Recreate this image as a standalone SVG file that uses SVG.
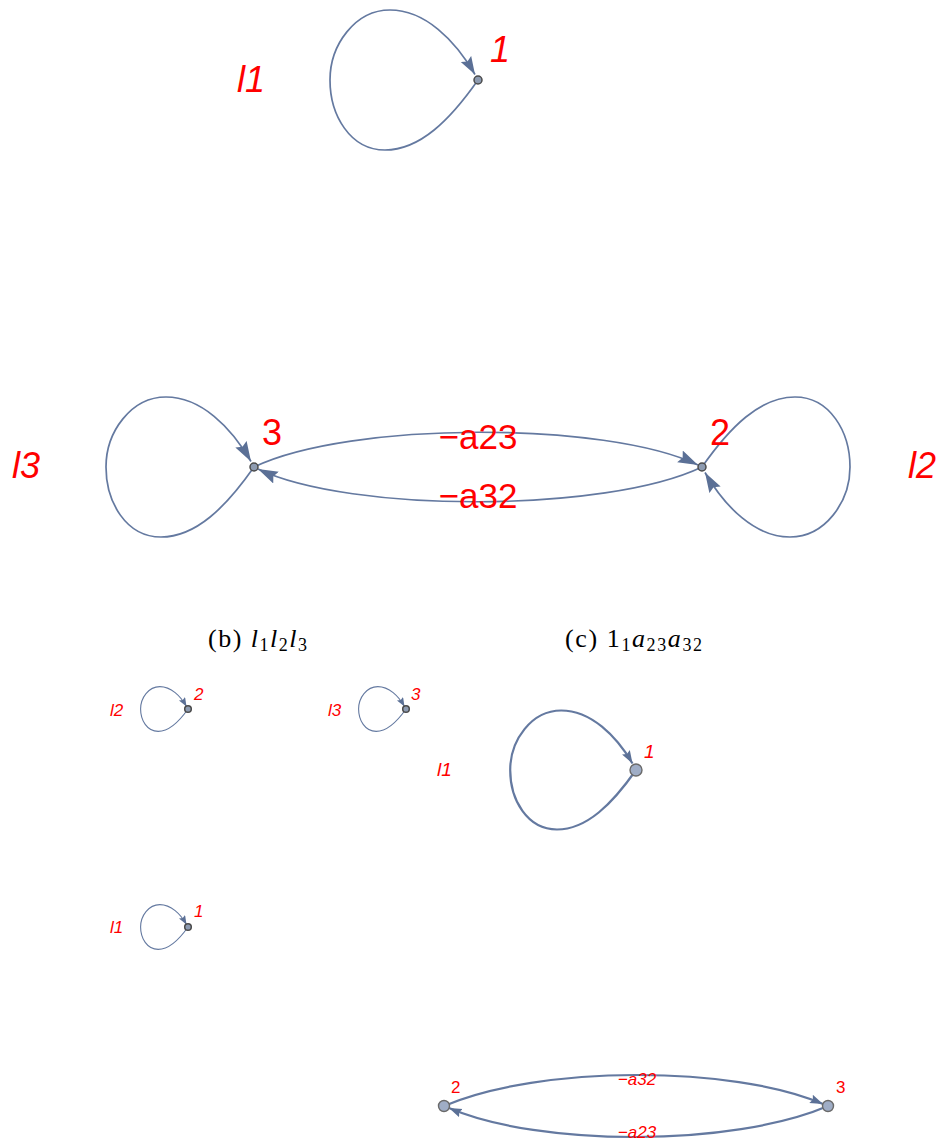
<svg xmlns="http://www.w3.org/2000/svg" width="943" height="1140" viewBox="0 0 943 1140">
<style>
.e{fill:none;stroke:#6479a0;}
.w1{stroke-width:1.7}
.w2{stroke-width:2.2}
.ws{stroke-width:1.1}
.lb{fill:#ff0000;font-family:"Liberation Sans",Arial,sans-serif;font-style:italic;}
.el{fill:#ff0000;font-family:"Liberation Sans",Arial,sans-serif;text-anchor:middle;}
.nA{fill:#8d9bb1;stroke:#4a4a4a;stroke-width:1.5}
.nB{fill:#9fadc6;stroke:#6a6a6a;stroke-width:1.4}
.cap{font-family:"Liberation Serif","Times New Roman",serif;font-size:26px;fill:#000}
</style>
<defs>
<marker id="aL" markerUnits="userSpaceOnUse" markerWidth="22" markerHeight="14" refX="20" refY="6.5" orient="auto"><path d="M0,0 L20,6.5 L0,13 L3,6.5 z" fill="#5b7096"/></marker>
<marker id="aT" markerUnits="userSpaceOnUse" markerWidth="20" markerHeight="14" refX="18" refY="6" orient="auto"><path d="M0,0 L18,6 L0,12 L3,6 z" fill="#5b7096"/></marker>
<marker id="aM" markerUnits="userSpaceOnUse" markerWidth="14" markerHeight="10" refX="13" refY="4.5" orient="auto"><path d="M0,0 L13,4.5 L0,9 L2,4.5 z" fill="#5b7096"/></marker>
<marker id="aS" markerUnits="userSpaceOnUse" markerWidth="10" markerHeight="8" refX="9" refY="3.5" orient="auto"><path d="M0,0 L9,3.5 L0,7 L1.5,3.5 z" fill="#5b7096"/></marker>
</defs>
<g id="connectors">
<path class="e w1" marker-end="url(#aT)" d="M478,80 C450,120 420,150 385,150 C350,150 330,115 330,80 C330,45 355,10 390,10 C425,10 455,40 475,74.5"/>
<path class="e w1" marker-end="url(#aL)" d="M254,467 C226,507 196,537 161,537 C126,537 106,502 106,467 C106,432 131,397 166,397 C201,397 231,427 251,461.5"/>
<path class="e w1" marker-end="url(#aL)" d="M702,467 C730,427 760,397 795,397 C830,397 850,432 850,467 C850,502 825,537 790,537 C755,537 725,507 705,472.5"/>
<path class="e w1" marker-end="url(#aL)" d="M254,467 C350,421 606,421 698,465"/>
<path class="e w1" marker-end="url(#aL)" d="M702,467 C606,513 350,513 258,469"/>
<path class="e ws" marker-end="url(#aS)" d="M188,709 C179,721.8 169.4,731.4 158.2,731.4 C147,731.4 140.6,720.2 140.6,709 C140.6,697.8 148.6,686.6 159.8,686.6 C171,686.6 180.6,696.2 186.5,706.5"/>
<path class="e ws" marker-end="url(#aS)" d="M406,709 C397,721.8 387.4,731.4 376.2,731.4 C365,731.4 358.6,720.2 358.6,709 C358.6,697.8 366.6,686.6 377.8,686.6 C389,686.6 398.6,696.2 404.5,706.5"/>
<path class="e ws" marker-end="url(#aS)" d="M188,927 C179,939.8 169.4,949.4 158.2,949.4 C147,949.4 140.6,938.2 140.6,927 C140.6,915.8 148.6,904.6 159.8,904.6 C171,904.6 180.6,914.2 186.5,924.5"/>
<path class="e w2" marker-end="url(#aM)" d="M636,770 C612.2,804 586.7,829.5 557,829.5 C527.2,829.5 510.2,799.8 510.2,770 C510.2,740.2 531.4,710.5 561.2,710.5 C591,710.5 616.4,736 632.5,763.5"/>
<path class="e w2" marker-end="url(#aM)" d="M444,1106 C540,1065 732,1065 823,1104"/>
<path class="e w2" marker-end="url(#aM)" d="M828,1106 C732,1147 540,1147 449,1108"/>
</g>
<g id="g1-node1"><circle class="nA" cx="478" cy="80" r="4"/><text class="lb" x="490" y="62" font-size="36">1</text></g>
<g id="g1-l1"><text class="lb" x="237" y="92" font-size="36">l1</text></g>
<g id="g2-node3"><circle class="nA" cx="254" cy="467" r="4"/><text class="lb" x="262" y="445" font-size="36" style="font-style:normal">3</text></g>
<g id="g2-node2"><circle class="nA" cx="702" cy="467" r="4"/><text class="lb" x="710" y="445" font-size="36" style="font-style:normal">2</text></g>
<g id="g2-labels">
<text class="lb" x="12" y="478" font-size="36">l3</text>
<text class="lb" x="908" y="478" font-size="36">l2</text>
<text class="el" x="478" y="449" font-size="35">−a23</text>
<text class="el" x="478" y="508" font-size="35">−a32</text>
</g>
<g id="captions">
<text class="cap" x="208" y="647" textLength="99" lengthAdjust="spacing">(b) <tspan font-style="italic">l</tspan><tspan font-size="18" dy="4">1</tspan><tspan font-style="italic" dy="-4">l</tspan><tspan font-size="18" dy="4">2</tspan><tspan font-style="italic" dy="-4">l</tspan><tspan font-size="18" dy="4">3</tspan></text>
<text class="cap" x="565" y="647" textLength="137" lengthAdjust="spacing">(c) 1<tspan font-size="18" dy="4">1</tspan><tspan font-style="italic" dy="-4">a</tspan><tspan font-size="18" dy="4">23</tspan><tspan font-style="italic" dy="-4">a</tspan><tspan font-size="18" dy="4">32</tspan></text>
</g>
<g id="g3-node2"><circle class="nA" cx="188" cy="709" r="3.3"/><text class="lb" x="194" y="700" font-size="17">2</text><text class="lb" x="110" y="716" font-size="17">l2</text></g>
<g id="g3-node3"><circle class="nA" cx="406" cy="709" r="3.3"/><text class="lb" x="411" y="700" font-size="17">3</text><text class="lb" x="328" y="716" font-size="17">l3</text></g>
<g id="g4-node1"><circle class="nB" cx="636" cy="770" r="6"/><text class="lb" x="644" y="758" font-size="19">1</text><text class="lb" x="437" y="776" font-size="19">l1</text></g>
<g id="g5-node1"><circle class="nA" cx="188" cy="927" r="3.3"/><text class="lb" x="194" y="917" font-size="17">1</text><text class="lb" x="110" y="933" font-size="17">l1</text></g>
<g id="g6-node2"><circle class="nB" cx="444" cy="1106" r="5.5"/><text class="lb" x="451" y="1093" font-size="17" style="font-style:normal">2</text></g>
<g id="g6-node3"><circle class="nB" cx="828" cy="1106" r="5.5"/><text class="lb" x="836" y="1093" font-size="17" style="font-style:normal">3</text></g>
<g id="g6-labels">
<text class="el" x="637" y="1085" font-size="17" font-style="italic">−a32</text>
<text class="el" x="637" y="1138" font-size="17" font-style="italic">−a23</text>
</g>
</svg>
